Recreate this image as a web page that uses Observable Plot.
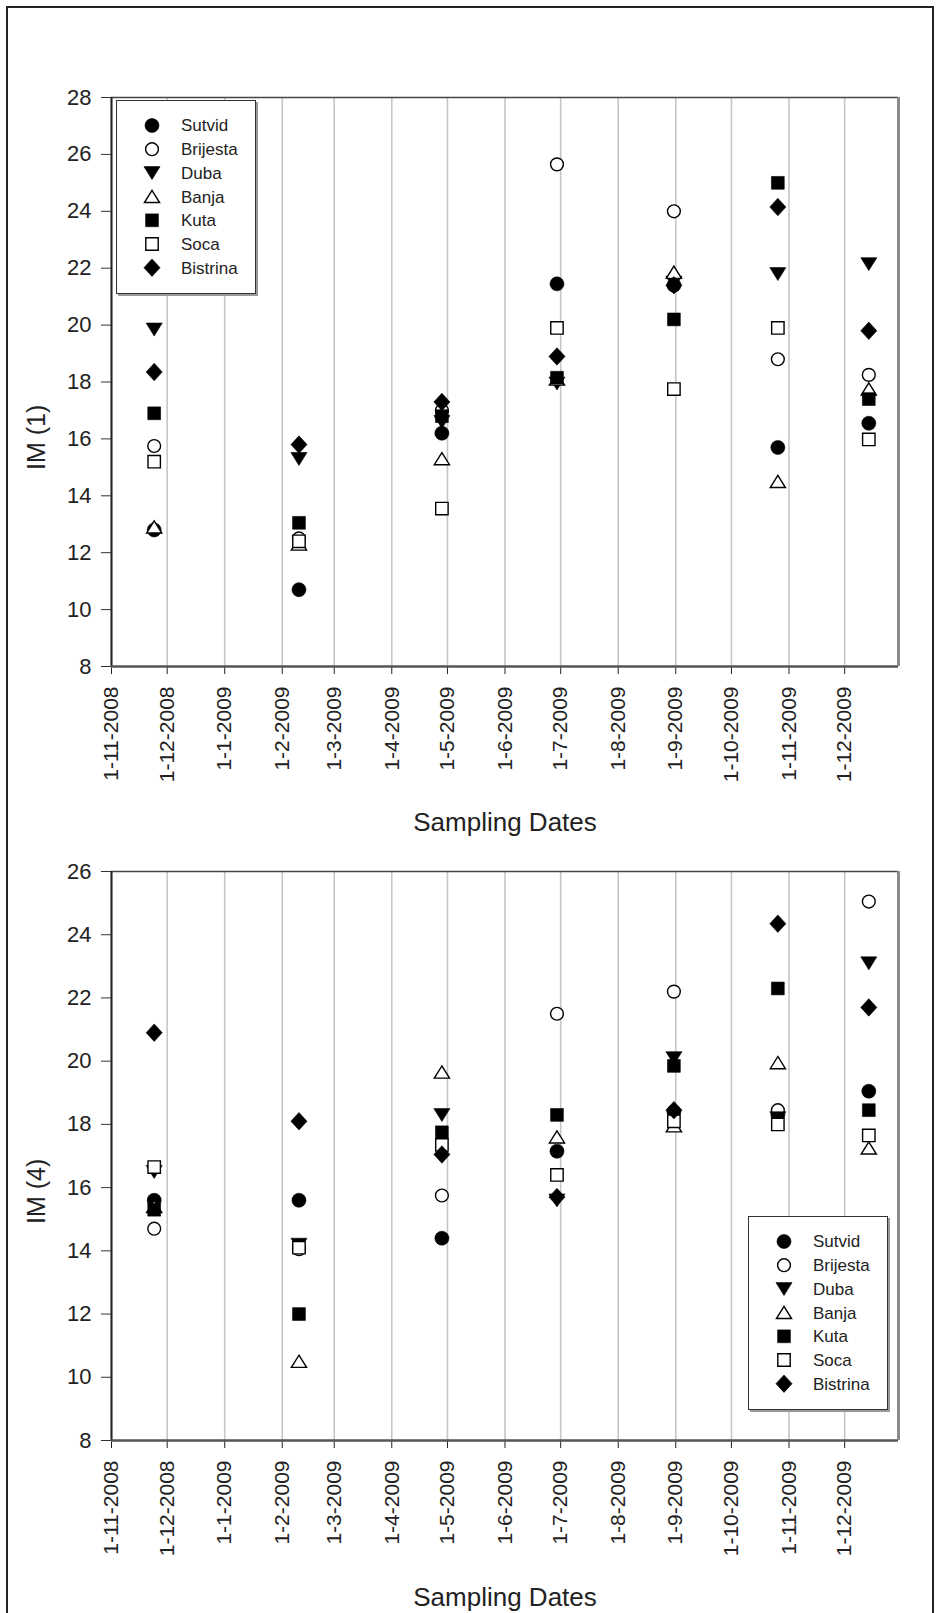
<!DOCTYPE html>
<html><head><meta charset="utf-8">
<script src="https://cdn.jsdelivr.net/npm/d3@7"></script>
<script src="https://cdn.jsdelivr.net/npm/@observablehq/plot@0.6"></script>
<style>
body{margin:0;background:#fff;}
#page{position:relative;width:936px;height:1613px;overflow:hidden;background:#fff;font-family:"Liberation Sans",Arial,sans-serif;}
#border{position:absolute;left:6px;top:6px;width:928px;height:1660px;border:2px solid #222;box-sizing:border-box;}
.chart{position:absolute;left:0;}
.legend{position:absolute;width:140px;height:194px;border:1.5px solid #333;box-shadow:2px 2px 0 #999;background:#fff;box-sizing:border-box;}
</style></head>
<body><div id="page"><div id="border"></div></div>
<script>
// ---------- data ----------
const sites = ["Sutvid", "Brijesta", "Duba", "Banja", "Kuta", "Soca", "Bistrina"];
const samplingDates = ["2008-11-24", "2009-02-10", "2009-04-28", "2009-06-29", "2009-08-31", "2009-10-26", "2009-12-14"];
const tickLabels = ["1-11-2008","1-12-2008","1-1-2009","1-2-2009","1-3-2009","1-4-2009","1-5-2009","1-6-2009","1-7-2009","1-8-2009","1-9-2009","1-10-2009","1-11-2009","1-12-2009"];
const yTicksIM1 = [8, 10, 12, 14, 16, 18, 20, 22, 24, 26, 28];
const yTicksIM4 = [8, 10, 12, 14, 16, 18, 20, 22, 24, 26];

// IM (1)
const im1Sutvid   = [12.8, 10.7, 16.2, 21.45, 21.4, 15.7, 16.55];
const im1Brijesta = [15.75, 12.5, 17.0, 25.65, 24.0, 18.8, 18.25];
const im1Duba     = [19.85, 15.3, 16.6, 17.95, 21.5, 21.8, 22.15];
const im1Banja    = [12.9, 12.3, 15.3, 18.1, 21.85, 14.5, 17.75];
const im1Kuta     = [16.9, 13.05, 16.8, 18.15, 20.2, 25.0, 17.4];
const im1Soca     = [15.2, 12.4, 13.55, 19.9, 17.75, 19.9, 15.98];
const im1Bistrina = [18.35, 15.8, 17.3, 18.9, 21.4, 24.15, 19.8];

// IM (4)
const im4Sutvid   = [15.6, 15.6, 14.4, 17.15, 18.4, 18.3, 19.05];
const im4Brijesta = [14.7, 14.05, 15.75, 21.5, 22.2, 18.45, 25.05];
const im4Duba     = [16.5, 14.2, 18.3, 15.6, 20.1, 18.2, 23.1];
const im4Banja    = [15.4, 10.5, 19.65, 17.6, 17.95, 19.95, 17.25];
const im4Kuta     = [15.3, 12.0, 17.75, 18.3, 19.85, 22.3, 18.45];
const im4Soca     = [16.65, 14.1, 17.35, 16.4, 18.1, 18.0, 17.65];
const im4Bistrina = [20.9, 18.1, 17.05, 15.7, 18.45, 24.35, 21.7];

// ---------- symbols & styles ----------
function mk(fn){ return {draw(ctx, size){ const r = Math.sqrt(size/Math.PI); fn(ctx, r); }}; }
const symCircle  = mk((c,r)=>{ c.moveTo(r,0); c.arc(0,0,r,0,2*Math.PI); c.closePath(); });
const symSquare  = mk((c,r)=>{ c.rect(-r,-r,2*r,2*r); });
const symTriDown = mk((c,r)=>{ c.moveTo(0,r*0.95); c.lineTo(r*1.15,-r*0.9); c.lineTo(-r*1.15,-r*0.9); c.closePath(); });
const symTriUp   = mk((c,r)=>{ c.moveTo(0,-r*0.95); c.lineTo(r*1.15,r*0.9); c.lineTo(-r*1.15,r*0.9); c.closePath(); });
const symDiamond = mk((c,r)=>{ c.moveTo(0,-r*1.25); c.lineTo(r*1.15,0); c.lineTo(0,r*1.25); c.lineTo(-r*1.15,0); c.closePath(); });
const siteSymbols = [symCircle, symCircle, symTriDown, symTriUp, symSquare, symSquare, symDiamond];
const siteFilled  = [true, false, true, false, true, false, true];
const siteRadius  = [7, 6.4, 7, 6.6, 6.4, 6.2, 7];

const parseISO = d3.utcParse("%Y-%m-%d");
const parseTick = d3.utcParse("%d-%m-%Y");
const tickDates = tickLabels.map(parseTick);
const labelByTime = new Map(tickDates.map((d,i)=>[+d, tickLabels[i]]));
const xDomain = [parseISO("2008-11-01"), parseISO("2009-12-30")];

function rows(series){
  return sites.flatMap((s,i)=>samplingDates.map((d,j)=>({site:s, date:parseISO(d), value:series[i][j]})));
}

function chart({series, yTicks, yLabel, height, marginTop, marginBottom, labelDy, titleDy}){
  const data = rows(series);
  const yMax = yTicks[yTicks.length-1];
  return Plot.plot({
    width: 936, height, marginLeft: 111, marginRight: 38, marginTop, marginBottom,
    style: {fontFamily: "'Liberation Sans', Arial, sans-serif", color: "#222", background: "transparent"},
    x: {type: "utc", domain: xDomain},
    y: {domain: [yTicks[0], yMax]},
    marks: [
      Plot.gridX(tickDates, {stroke: "#c6c6c6", strokeOpacity: 1, strokeWidth: 1.6}),
      Plot.axisY(yTicks, {tickSize: 10, tickPadding: 10, fontSize: 22, label: null, stroke: "#333"}),
      Plot.axisX(tickDates, {tickSize: 8, tickPadding: 12, tickRotate: -90, fontSize: 21, label: null, stroke: "#222",
        tickFormat: d => labelByTime.get(+d)}),
      Plot.ruleY([yMax], {stroke: "#444", strokeWidth: 1.5}),
      Plot.ruleX([xDomain[0]], {stroke: "#222", strokeWidth: 2}),
      Plot.ruleY([yTicks[0]], {stroke: "#555", strokeWidth: 2.5}),
      Plot.ruleX([xDomain[1]], {stroke: "#8a8a8a", strokeWidth: 3}),
      ...sites.map((s,i)=>Plot.dot(data.filter(d=>d.site===s), {
        x: "date", y: "value", symbol: siteSymbols[i], r: siteRadius[i],
        fill: siteFilled[i] ? "#000" : "#fff", stroke: "#000", strokeWidth: siteFilled[i] ? 0.6 : 1.4
      })),
      Plot.text([yLabel], {frameAnchor: "left", rotate: -90, dx: -75, dy: labelDy, fontSize: 25, fill: "#222"}),
      Plot.text(["Sampling Dates"], {frameAnchor: "bottom", lineAnchor: "middle", dy: titleDy, fontSize: 26, fill: "#222"})
    ]
  });
}

function symPath(sym, r){ const p = d3.path(); sym.draw(p, r*r*Math.PI); return p.toString(); }

function legend(left, top){
  const div = document.createElement("div");
  div.className = "legend";
  div.style.left = left + "px"; div.style.top = top + "px";
  const svg = d3.select(div).append("svg").attr("width", 137).attr("height", 191)
    .style("position","absolute").style("left","0").style("top","0");
  sites.forEach((s,i)=>{
    const y = 24.5 + 23.7*i;
    svg.append("path").attr("d", symPath(siteSymbols[i], siteRadius[i]))
      .attr("transform", `translate(35,${y})`)
      .attr("fill", siteFilled[i] ? "#000" : "#fff").attr("stroke", "#000")
      .attr("stroke-width", siteFilled[i] ? 0.6 : 1.4);
    svg.append("text").attr("x", 64).attr("y", y).attr("dy", "0.35em")
      .attr("font-size", 17).attr("fill", "#222")
      .attr("font-family", "'Liberation Sans', Arial, sans-serif").text(s);
  });
  return div;
}

const page = document.getElementById("page");
const c1 = chart({
  series: [im1Sutvid, im1Brijesta, im1Duba, im1Banja, im1Kuta, im1Soca, im1Bistrina],
  yTicks: yTicksIM1, yLabel: "IM (1)", height: 845, marginTop: 97, marginBottom: 179, labelDy: 88, titleDy: 156
});
c1.classList.add("chart"); c1.style.top = "0px";
page.appendChild(c1);
const c2 = chart({
  series: [im4Sutvid, im4Brijesta, im4Duba, im4Banja, im4Kuta, im4Soca, im4Bistrina],
  yTicks: yTicksIM4, yLabel: "IM (4)", height: 768, marginTop: 26, marginBottom: 173, labelDy: 68, titleDy: 157
});
c2.classList.add("chart"); c2.style.top = "845px";
page.appendChild(c2);
page.appendChild(legend(116, 100));
page.appendChild(legend(748, 1216));
</script>
</body></html>
